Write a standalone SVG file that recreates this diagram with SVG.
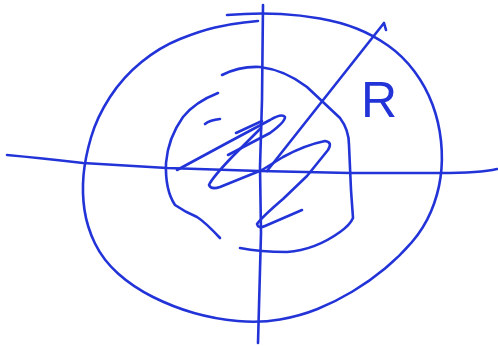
<svg xmlns="http://www.w3.org/2000/svg" width="498" height="346" viewBox="0 0 498 346">
<style>
.ink{fill:none;stroke:#2233d8;stroke-width:2.6;stroke-linecap:round;stroke-linejoin:round}
.lbl{font-family:"Liberation Sans",Arial,sans-serif;font-size:50px;fill:#2233d8}
</style>
<rect width="498" height="346" fill="#ffffff"/>
<g id="outer-circle">
<path class="ink" d="M227,15 L244.5,14 Q262,13 281,14 Q300,15 320,18.5 Q340,22 356.5,28.5 Q373,35 388,45.5 Q403,56 414.5,71.5 Q426,87 432.5,104.5 Q439,122 441,141 Q443,160 440.5,177.5 Q438,195 431,211.5 Q424,228 412,242 Q400,256 385,268.5 Q370,281 352.5,291.5 Q335,302 317.5,309 Q300,316 280,319.5 Q260,323 237.5,321 Q215,319 194,313 Q173,307 153,297 Q133,287 118,273.5 Q103,260 95,243.5 Q87,227 84.5,210 Q82,193 83.5,175.5 Q85,158 91,137.5 Q97,117 110,97 Q123,77 141.5,62 Q160,47 180,39 Q200,31 215,27.5 Q230,24 244,22.5 L258,21"/>
</g>
<g id="axes">
<path class="ink" d="M7,155 Q40,158 83,163 L167,168 L260,171 L350,173 L440,173 Q480,173 497,169"/>
<path class="ink" d="M263,5 L262,100 L260,167 L261,233 L258,343"/>
</g>
<g id="inner-blob">
<path class="ink" d="M222,75 Q240,66 260,67 Q285,70 307,87 L340,118 Q349,130 349,145 L351,190 L353,218 Q350,225 340,232 Q315,250 287,252 Q260,252 240,248"/>
<path class="ink" d="M218,93 Q195,102 183,117 Q168,138 166,163 Q165,190 175,205 Q185,212 197,217 Q205,222 220,238"/>
<path class="ink" d="M205,124 Q210,120 220,119"/>
</g>
<g id="scribble">
<path class="ink" d="M177,170 L227,143 L270,120 Q282,113 285,117 Q285,122 270,133 L228,155"/>
<path class="ink" d="M236,133 L262,121"/>
<path class="ink" d="M261,128 L232,157 Q212,178 209,185 Q211,190 220,187 L262,170 L283,157 Q305,145 325,141 Q333,142 328,150 L307,176 L283,199 Q262,217 257,224 Q258,229 265,226 L302,210"/>
</g>
<g id="radius">
<path class="ink" d="M267,171 L384,23 L386,30"/>
<text class="lbl" x="361" y="117">R</text>
</g>
</svg>
